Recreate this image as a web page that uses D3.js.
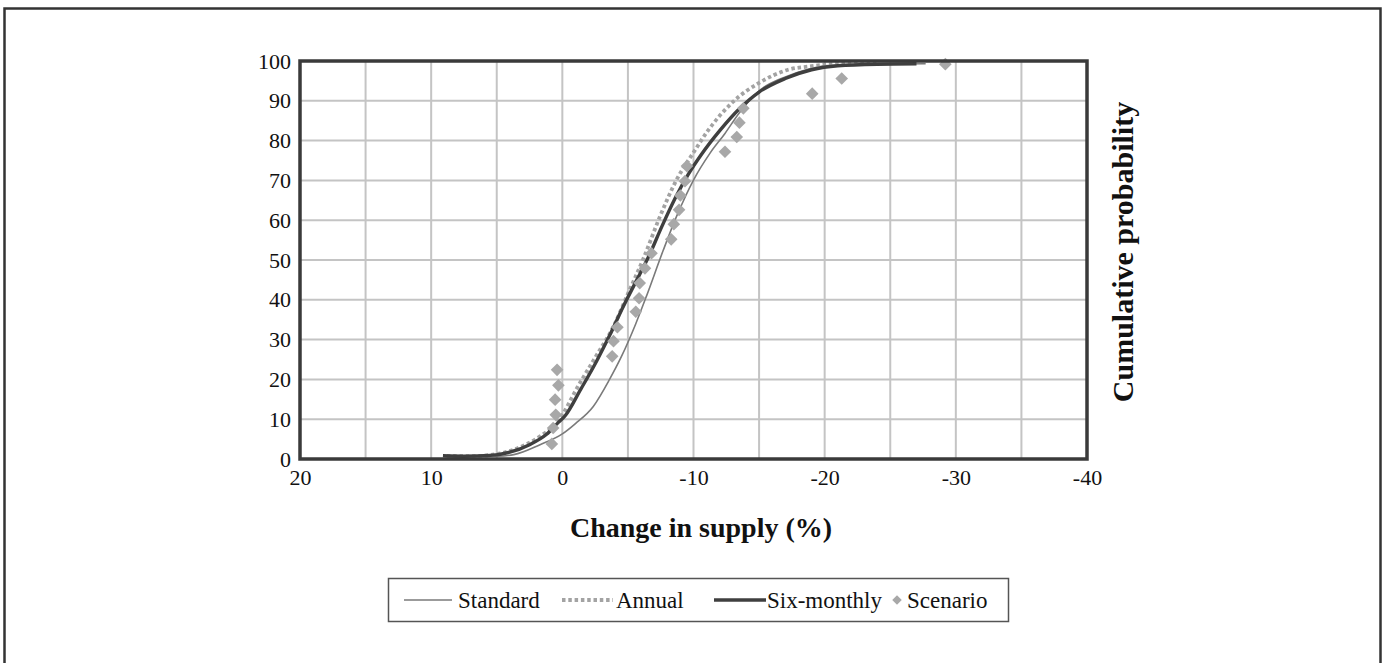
<!DOCTYPE html>
<html><head><meta charset="utf-8">
<script src="https://cdn.jsdelivr.net/npm/d3@7"></script>
<style>
body{margin:0;background:#fff}
svg{display:block}
text{font-family:"Liberation Serif","Times New Roman",serif;fill:#111}
</style>
</head><body>
<svg id="chart" width="1385" height="663"></svg>
<script>
// ---------- data ----------
const xTickValues = [20, 10, 0, -10, -20, -30, -40];
const xGridValues = [15, 10, 5, 0, -5, -10, -15, -20, -25, -30, -35];
const yTickValues = [0, 10, 20, 30, 40, 50, 60, 70, 80, 90, 100];

const standardX = [9.1, 7.0, 5.0, 3.7, 1.7, 0.0, -1.0, -2.36, -3.6, -4.5, -5.6, -6.4, -7.7, -8.7, -10.0, -11.25, -12.4, -13.5, -15.0, -17.0, -18.6, -20.0, -23.0, -27.7];
const standardY = [0.7, 0.6, 0.7, 1.1, 3.6, 6.3, 8.9, 13.2, 20.0, 25.7, 34.0, 40.8, 52.5, 60.9, 70.1, 76.8, 81.8, 87.0, 92.5, 96.0, 97.8, 98.8, 99.2, 99.3];

const annualX = [8.8, 7.0, 5.5, 3.74, 1.7, 0.44, -1.34, -2.6, -3.9, -5.0, -6.2, -7.44, -8.7, -10.0, -11.1, -13.0, -15.0, -17.2, -19.0, -20.5, -24.0];
const annualY = [0.8, 0.7, 1.0, 2.3, 5.7, 9.0, 19.1, 26.0, 33.3, 41.5, 50.5, 60.9, 70.1, 77.0, 82.5, 89.7, 94.5, 97.8, 98.7, 99.2, 99.4];

const sixMonthlyX = [9.1, 7.5, 5.5, 4.0, 2.5, 1.2, 0.3, -0.2, -1.4, -2.6, -3.6, -4.6, -5.6, -6.6, -7.6, -8.6, -9.6, -10.6, -12.0, -13.5, -15.0, -17.0, -19.0, -21.0, -24.0, -27.0];
const sixMonthlyY = [0.8, 0.7, 0.9, 1.7, 3.6, 6.2, 9.2, 10.8, 17.5, 24.5, 31.0, 38.0, 44.5, 51.0, 58.5, 65.5, 71.5, 76.5, 82.5, 88.0, 92.2, 95.6, 97.8, 98.8, 99.2, 99.3];

const scenarioX = [0.8, 0.7, 0.5, 0.55, 0.3, 0.4, -3.8, -3.9, -4.2, -5.6, -5.85, -5.9, -6.3, -6.8, -8.3, -8.5, -8.9, -9.0, -9.35, -9.5, -12.4, -13.3, -13.5, -13.8, -19.05, -21.3, -29.2];
const scenarioY = [3.8, 7.8, 11.1, 14.9, 18.5, 22.4, 25.8, 29.6, 33.1, 37.0, 40.4, 44.2, 47.9, 51.7, 55.2, 59.0, 62.6, 66.2, 69.8, 73.6, 77.2, 80.9, 84.5, 88.1, 91.8, 95.6, 99.2];

const legendLabels = ["Standard", "Annual", "Six-monthly", "Scenario"];
const xTitle = "Change in supply (%)";
const yTitle = "Cumulative probability";

// ---------- drawing ----------
const svg = d3.select("#chart");
const plot = {left: 300, right: 1087, top: 61, bottom: 459};

svg.append("rect").attr("x", 4.5).attr("y", 8.5).attr("width", 1376).attr("height", 660)
  .attr("fill", "#fff").attr("stroke", "#333").attr("stroke-width", 2.5);

const x = d3.scaleLinear().domain([20, -40]).range([plot.left, plot.right]);
const y = d3.scaleLinear().domain([0, 100]).range([plot.bottom, plot.top]);

// gridlines
const grid = svg.append("g");
grid.selectAll("line.gx").data(xGridValues).join("line")
  .attr("x1", d => x(d)).attr("x2", d => x(d))
  .attr("y1", plot.top).attr("y2", plot.bottom)
  .attr("stroke", "#c4c4c4").attr("stroke-width", 2);
grid.selectAll("line.gy").data(yTickValues.slice(1, -1)).join("line")
  .attr("x1", plot.left).attr("x2", plot.right)
  .attr("y1", d => y(d)).attr("y2", d => y(d))
  .attr("stroke", "#c4c4c4").attr("stroke-width", 2);

// axes (labels only)
const fmt = d => String(d);
const xAxis = d3.axisBottom(x).tickValues(xTickValues).tickSize(0).tickPadding(10).tickFormat(fmt);
const gx = svg.append("g").attr("transform", `translate(0,${plot.bottom})`).call(xAxis);
gx.select(".domain").remove();
gx.selectAll("text").attr("font-size", 22).attr("font-family", "Liberation Serif").attr("fill", "#111");

const yAxis = d3.axisLeft(y).tickValues(yTickValues).tickSize(0).tickPadding(9).tickFormat(fmt);
const gy = svg.append("g").attr("transform", `translate(${plot.left},0)`).call(yAxis);
gy.select(".domain").remove();
gy.selectAll("text").attr("font-size", 22).attr("font-family", "Liberation Serif").attr("fill", "#111");

// series
const toPts = (xs, ys) => xs.map((v, i) => [v, ys[i]]);
const line = d3.line().x(d => x(d[0])).y(d => y(d[1])).curve(d3.curveMonotoneX);
const series = svg.append("g");
series.append("path").attr("d", line(toPts(standardX, standardY)))
  .attr("fill", "none").attr("stroke", "#7a7a7a").attr("stroke-width", 1.6);
series.append("path").attr("d", line(toPts(annualX, annualY)))
  .attr("fill", "none").attr("stroke", "#a3a3a3").attr("stroke-width", 3.8).attr("stroke-dasharray", "3.5,2.8");
series.append("path").attr("d", line(toPts(sixMonthlyX, sixMonthlyY)))
  .attr("fill", "none").attr("stroke", "#3f3f3f").attr("stroke-width", 3.4);

series.selectAll("path.pt").data(toPts(scenarioX, scenarioY)).join("path")
  .attr("class", "pt")
  .attr("d", d3.symbol().type(d3.symbolSquare).size(80))
  .attr("transform", d => `translate(${x(d[0])},${y(d[1])}) rotate(45)`)
  .attr("fill", "#a8a8a8");

// plot frame
svg.append("rect").attr("x", plot.left).attr("y", plot.top)
  .attr("width", plot.right - plot.left).attr("height", plot.bottom - plot.top)
  .attr("fill", "none").attr("stroke", "#3a3a3a").attr("stroke-width", 3.5);

// titles
svg.append("text").attr("x", 701).attr("y", 537)
  .attr("text-anchor", "middle").attr("font-size", 28).attr("font-weight", "bold").text(xTitle);
svg.append("text").attr("transform", `translate(1133,${(plot.top + plot.bottom) / 2 - 8}) rotate(-90)`)
  .attr("text-anchor", "middle").attr("font-size", 30).attr("font-weight", "bold").text(yTitle);

// legend
const lg = svg.append("g");
lg.append("rect").attr("x", 388.5).attr("y", 578.5).attr("width", 620).attr("height", 43)
  .attr("fill", "#fff").attr("stroke", "#555").attr("stroke-width", 1.5);
const ly = 600;
const items = [
  {label: legendLabels[0], x0: 404, x1: 452, tx: 458, type: "standard"},
  {label: legendLabels[1], x0: 562, x1: 613, tx: 616, type: "annual"},
  {label: legendLabels[2], x0: 714, x1: 766, tx: 767, type: "six"},
  {label: legendLabels[3], x0: 897, x1: 897, tx: 907, type: "scen"}
];
items.forEach(it => {
  if (it.type === "standard") lg.append("line").attr("x1", it.x0).attr("x2", it.x1).attr("y1", ly).attr("y2", ly).attr("stroke", "#7a7a7a").attr("stroke-width", 1.6);
  if (it.type === "annual") lg.append("line").attr("x1", it.x0).attr("x2", it.x1).attr("y1", ly).attr("y2", ly).attr("stroke", "#a3a3a3").attr("stroke-width", 3.8).attr("stroke-dasharray", "3.5,2.8");
  if (it.type === "six") lg.append("line").attr("x1", it.x0).attr("x2", it.x1).attr("y1", ly).attr("y2", ly).attr("stroke", "#3f3f3f").attr("stroke-width", 3.4);
  if (it.type === "scen") lg.append("path").attr("d", d3.symbol().type(d3.symbolSquare).size(45)).attr("transform", `translate(${it.x0},${ly}) rotate(45)`).attr("fill", "#a8a8a8");
  lg.append("text").attr("x", it.tx).attr("y", ly + 8).attr("font-size", 23).text(it.label);
});
</script>
</body></html>
